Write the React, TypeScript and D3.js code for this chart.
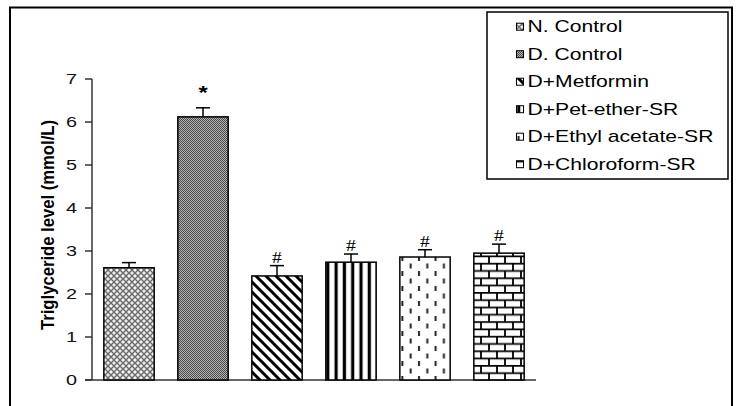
import React, { useEffect, useRef } from 'react';
import * as d3 from 'd3';

const groups = ['N. Control', 'D. Control', 'D+Metformin', 'D+Pet-ether-SR', 'D+Ethyl acetate-SR', 'D+Chloroform-SR'];
const means = [2.61, 6.12, 2.42, 2.74, 2.86, 2.95];
const errors = [0.12, 0.21, 0.24, 0.19, 0.17, 0.21];
const marks = ['', '*', '#', '#', '#', '#'];
const yTicks = [0, 1, 2, 3, 4, 5, 6, 7];
const patternIds = ['pNctrl', 'pDctrl', 'pMet', 'pPet', 'pEthyl', 'pChl'];

const SANS = '"Liberation Sans", Arial, sans-serif';
const SERIF = '"Liberation Serif", "Times New Roman", serif';
const SX = 1.32; // the original figure is stretched sideways

export default function App() {
  const ref = useRef<SVGSVGElement>(null);

  useEffect(() => {
    if (!ref.current) return;
    const svg = d3.select(ref.current);
    svg.selectAll('*').remove();

    const defs = svg.append('defs');

    // N. Control: grey lattice with white spots
    const p1 = defs.append('pattern').attr('id', patternIds[0]).attr('patternUnits', 'userSpaceOnUse').attr('width', 6).attr('height', 6);
    p1.append('rect').attr('width', 6).attr('height', 6).attr('fill', '#e8e8e8');
    p1.append('path').attr('d', 'M0,0L6,6M6,0L0,6').attr('stroke', '#6a6a6a').attr('stroke-width', 1.3);
    p1.append('rect').attr('x', 2.2).attr('y', -0.8).attr('width', 1.6).attr('height', 1.6).attr('fill', '#fff');
    p1.append('rect').attr('x', 2.2).attr('y', 5.2).attr('width', 1.6).attr('height', 1.6).attr('fill', '#fff');

    // D. Control: fine checker
    const p2 = defs.append('pattern').attr('id', patternIds[1]).attr('patternUnits', 'userSpaceOnUse').attr('width', 2).attr('height', 2);
    p2.append('rect').attr('width', 2).attr('height', 2).attr('fill', '#b4b4b4');
    p2.append('rect').attr('width', 1).attr('height', 1).attr('fill', '#4a4a4a');
    p2.append('rect').attr('x', 1).attr('y', 1).attr('width', 1).attr('height', 1).attr('fill', '#4a4a4a');

    // D+Metformin: thick "\" stripes
    const p3 = defs.append('pattern').attr('id', patternIds[2]).attr('patternUnits', 'userSpaceOnUse').attr('width', 10).attr('height', 10);
    p3.append('rect').attr('width', 10).attr('height', 10).attr('fill', '#fff');
    p3.append('path').attr('d', 'M-1,-1L11,11M-1,9L1,11M9,-1L11,1').attr('stroke', '#000').attr('stroke-width', 3);

    // D+Pet-ether: vertical stripes
    const p4 = defs.append('pattern').attr('id', patternIds[3]).attr('patternUnits', 'userSpaceOnUse').attr('width', 8.3).attr('height', 10);
    p4.append('rect').attr('width', 8.3).attr('height', 10).attr('fill', '#fff');
    p4.append('rect').attr('x', 2.5).attr('width', 3.2).attr('height', 10).attr('fill', '#000');

    // D+Ethyl acetate: staggered dashes
    const p5 = defs.append('pattern').attr('id', patternIds[4]).attr('patternUnits', 'userSpaceOnUse').attr('width', 16.6).attr('height', 15);
    p5.append('rect').attr('width', 16.6).attr('height', 15).attr('fill', '#fff');
    p5.append('path').attr('d', 'M4,1V6M12.3,8.5V13.5').attr('stroke', '#222').attr('stroke-width', 2);

    // D+Chloroform: bricks
    const p6 = defs.append('pattern').attr('id', patternIds[5]).attr('patternUnits', 'userSpaceOnUse').attr('width', 16).attr('height', 14.6);
    p6.append('rect').attr('width', 16).attr('height', 14.6).attr('fill', '#fff');
    p6.append('path').attr('d', 'M0,0.8H16M0,8.1H16M1,0.8V8.1M9,8.1V14.6').attr('stroke', '#000').attr('stroke-width', 1.8);

    // outer frame
    svg.append('rect').attr('x', 10).attr('y', 7.5).attr('width', 722).attr('height', 420)
      .attr('fill', 'none').attr('stroke', '#000').attr('stroke-width', 2);

    const x = d3.scaleBand<string>().domain(groups).range([92, 536]).paddingInner(0.32).paddingOuter(0.16);
    const y = d3.scaleLinear().domain([0, 7]).range([380, 79]);

    const g = svg.append('g');

    // y axis
    g.append('line').attr('x1', 92).attr('x2', 92).attr('y1', y(7)).attr('y2', y(0)).attr('stroke', '#333').attr('stroke-width', 1.5);
    yTicks.forEach(t => {
      g.append('line').attr('x1', 85).attr('x2', 92).attr('y1', y(t)).attr('y2', y(t)).attr('stroke', '#333').attr('stroke-width', 1.5);
      g.append('text').attr('transform', `translate(77,${y(t)}) scale(${SX},1)`).attr('dy', '0.36em')
        .attr('text-anchor', 'end').attr('font-family', SANS).attr('font-size', 15).attr('fill', '#111').text(t);
    });
    // x axis
    g.append('line').attr('x1', 85).attr('x2', 536).attr('y1', y(0)).attr('y2', y(0)).attr('stroke', '#333').attr('stroke-width', 1.5);

    // bars
    groups.forEach((name, i) => {
      const bx = x(name)!;
      const bw = x.bandwidth();
      const cx = bx + bw / 2;
      const errTop = y(means[i] + errors[i]);
      g.append('line').attr('x1', cx).attr('x2', cx).attr('y1', y(means[i])).attr('y2', errTop).attr('stroke', '#000').attr('stroke-width', 1.5);
      g.append('line').attr('x1', cx - 7).attr('x2', cx + 7).attr('y1', errTop).attr('y2', errTop).attr('stroke', '#000').attr('stroke-width', 1.5);
      g.append('rect').attr('x', bx).attr('y', y(means[i])).attr('width', bw).attr('height', y(0) - y(means[i]))
        .attr('fill', `url(#${patternIds[i]})`).attr('stroke', '#000').attr('stroke-width', 1.5);
      if (marks[i] === '*') {
        g.append('text').attr('transform', `translate(${cx},${errTop - 9}) scale(${SX},1)`).attr('text-anchor', 'middle')
          .attr('font-family', SANS).attr('font-weight', 'bold').attr('font-size', 18).attr('fill', '#000').text(marks[i]);
      } else if (marks[i]) {
        g.append('text').attr('transform', `translate(${cx},${errTop - 3}) scale(1.15,1)`).attr('text-anchor', 'middle')
          .attr('font-family', SERIF).attr('font-size', 17).attr('fill', '#000').text(marks[i]);
      }
    });

    // y label
    g.append('text').attr('transform', 'translate(54,225) rotate(-90) scale(1,1.2)').attr('text-anchor', 'middle')
      .attr('font-family', SANS).attr('font-weight', 'bold').attr('font-size', 15)
      .attr('textLength', 210).attr('lengthAdjust', 'spacingAndGlyphs').attr('fill', '#000')
      .text('Triglyceride level (mmol/L)');

    // legend
    const lg = svg.append('g');
    lg.append('rect').attr('x', 487).attr('y', 12).attr('width', 241).attr('height', 167)
      .attr('fill', '#fff').attr('stroke', '#000').attr('stroke-width', 1.5);
    groups.forEach((name, i) => {
      const ly = 26.7 + i * 27.5;
      lg.append('rect').attr('x', 516.5).attr('y', ly - 3.5).attr('width', 7).attr('height', 7)
        .attr('fill', `url(#${patternIds[i]})`).attr('stroke', '#000').attr('stroke-width', 1);
      lg.append('text').attr('transform', `translate(527.5,${ly}) scale(${SX},1)`).attr('dy', '0.36em')
        .attr('font-family', SANS).attr('font-size', 16).attr('fill', '#000').text(name);
    });
  }, []);

  return (
    <svg ref={ref} width={740} height={406}
      style={{ position: 'absolute', left: 0, top: 0, display: 'block', background: '#fff' }} />
  );
}
